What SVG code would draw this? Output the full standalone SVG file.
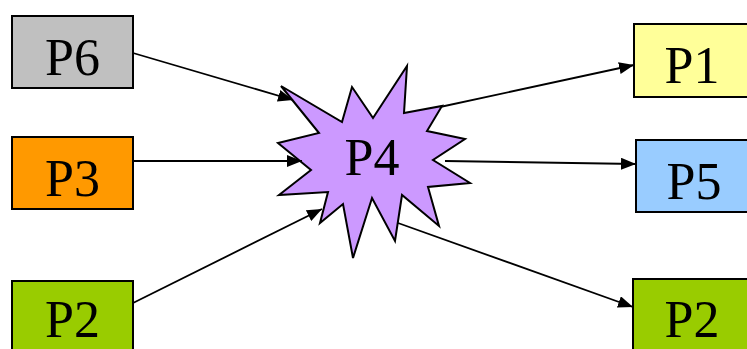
<svg xmlns="http://www.w3.org/2000/svg" width="747" height="349" viewBox="0 0 747 349">
<style>
.box{stroke:#000;stroke-width:2}
.lbl{font-family:"Liberation Serif","Times New Roman",serif;font-size:52px;fill:#000;text-anchor:middle}
.conn{stroke:#000;stroke-width:1.8;fill:none;marker-end:url(#arr)}
</style>
<defs>
<marker id="arr" markerUnits="userSpaceOnUse" markerWidth="16" markerHeight="12" refX="15" refY="6" orient="auto">
<path d="M0,0 L15,6 L0,12 z" fill="#000"/>
</marker>
</defs>
<rect width="747" height="349" fill="#fff"/>
<g id="P6"><rect class="box" x="12" y="16" width="121" height="72" fill="#C0C0C0"/><text class="lbl" x="72.5" y="75">P6</text></g>
<g id="P3"><rect class="box" x="12" y="137" width="121" height="72" fill="#FF9900"/><text class="lbl" x="72.5" y="196">P3</text></g>
<g id="P2a"><rect class="box" x="12" y="281" width="121" height="72" fill="#99CC00"/><text class="lbl" x="72.5" y="337">P2</text></g>
<g id="P1"><rect class="box" x="634" y="24" width="121" height="73" fill="#FFFF99"/><text class="lbl" x="692" y="83">P1</text></g>
<g id="P5"><rect class="box" x="636" y="140" width="121" height="72" fill="#99CCFF"/><text class="lbl" x="694" y="199">P5</text></g>
<g id="P2b"><rect class="box" x="633" y="279" width="121" height="74" fill="#99CC00"/><text class="lbl" x="692" y="337">P2</text></g>
<g id="P4">
<polygon class="box" fill="#CC99FF" points="281,86 342,122 352,87 373,118 407,66 404,113 442,106 427,131 465,139 433,160 470,183 428,187 439,226 402,195 395,241 372,198 353,258 343,204 320,223 328,192 279,195 311,170 278,143 319,133"/>
<text class="lbl" x="372" y="175">P4</text>
</g>
<g id="connectors">
<line class="conn" x1="133" y1="53" x2="293" y2="100"/>
<line class="conn" x1="133" y1="161" x2="302" y2="161"/>
<line class="conn" x1="133" y1="303" x2="322" y2="209"/>
<line class="conn" x1="440" y1="107" x2="634" y2="65"/>
<line class="conn" x1="445" y1="161" x2="636" y2="164"/>
<line class="conn" x1="398" y1="223" x2="633" y2="307"/>
</g>
</svg>
